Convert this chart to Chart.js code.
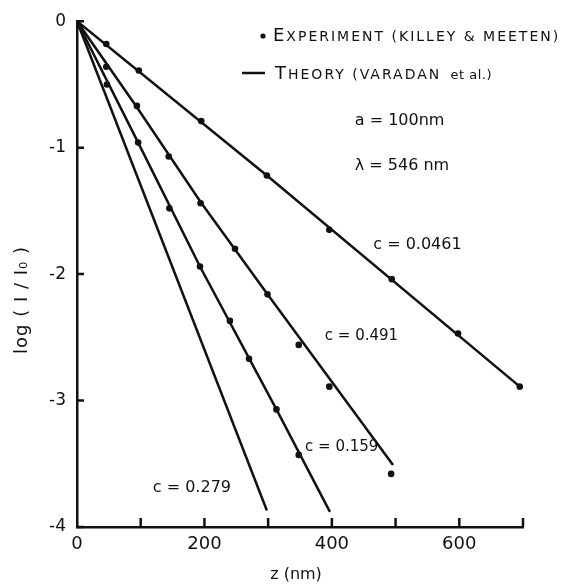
<!DOCTYPE html>
<html>
<head>
<meta charset="utf-8">
<title>log (I/I0) vs z</title>
<script src="https://cdn.jsdelivr.net/npm/chart.js@4.4.1/dist/chart.umd.min.js"></script>
<style>
  html, body { margin: 0; padding: 0; background: #fff; }
  #wrap { width: 563px; height: 587px; }
</style>
</head>
<body>
<div id="wrap"><canvas id="myChart"></canvas></div>
<script>
// Experiment (Killey & Meeten): z in nm and log(I/I0)
const zExp0461 = [46, 97, 195, 298, 396, 494, 598, 695];
const logExp0461 = [-0.18, -0.39, -0.79, -1.22, -1.65, -2.04, -2.47, -2.89];
const zExp0491 = [46, 94, 144, 194, 248, 299, 348, 396, 493];
const logExp0491 = [-0.36, -0.67, -1.07, -1.44, -1.80, -2.16, -2.56, -2.89, -3.58];
const zExp0159 = [47, 96, 145, 193, 240, 270, 313, 348];
const logExp0159 = [-0.50, -0.96, -1.48, -1.94, -2.37, -2.67, -3.07, -3.43];

// Theory (Varadan et al.)
const zTh0461 = [0, 298, 695];
const logTh0461 = [0, -1.22, -2.89];
const zTh0491 = [0, 94, 194, 299, 496];
const logTh0491 = [0, -0.68, -1.43, -2.16, -3.51];
const zTh0159 = [0, 96, 193, 313, 397];
const logTh0159 = [0, -0.96, -1.94, -3.07, -3.88];
const zTh0279 = [0, 298];
const logTh0279 = [0, -3.87];

// Axes
const xTicks = [0, 100, 200, 300, 400, 500, 600, 700];
const xTickLabels = ['0', '', '200', '', '400', '', '600', ''];
const yTicks = [0, -1, -2, -3, -4];
const yTickLabels = ['0', '-1', '-2', '-3', '-4'];
const xTitle = 'z (nm)';
const yTitle = 'log ( I / I\u2080 )';

// Text on the plot
const curveLabels = ['c = 0.0461', 'c = 0.491', 'c = 0.159', 'c = 0.279'];
const paramLabels = ['a = 100nm', '\u03bb = 546 nm'];

const ink = '#111';
const toXY = (zs, logs) => zs.map((z, i) => ({ x: z, y: logs[i] }));

function theoryLine(zs, logs) {
  return {
    data: toXY(zs, logs),
    showLine: true,
    borderColor: ink,
    borderWidth: 2.5,
    pointRadius: 0,
    tension: 0
  };
}

function experimentPoints(zs, logs) {
  return {
    data: toXY(zs, logs),
    showLine: false,
    pointRadius: 3.3,
    pointBackgroundColor: ink,
    pointBorderWidth: 0
  };
}

// draws a run of text pieces with different sizes (small caps look)
function drawParts(c, parts, x, y) {
  parts.forEach(([txt, size, spacing]) => {
    c.font = size + 'px "DejaVu Sans"';
    c.letterSpacing = spacing + 'px';
    c.fillText(txt, x, y);
    x += c.measureText(txt).width;
  });
}

const paperPlugin = {
  id: 'paper',
  afterDraw(chart) {
    const c = chart.ctx;
    const { x, y } = chart.scales;
    c.save();
    c.strokeStyle = ink;
    c.fillStyle = ink;
    c.lineWidth = 2.5;

    // inward tick marks
    c.beginPath();
    xTicks.forEach(v => {
      if (v === 0) return;
      const px = x.getPixelForValue(v);
      c.moveTo(px, y.bottom);
      c.lineTo(px, y.bottom - 9);
    });
    yTicks.forEach(v => {
      const py = y.getPixelForValue(v);
      c.moveTo(x.left, py);
      c.lineTo(x.left + 7, py);
    });
    c.stroke();

    // axis titles
    c.textAlign = 'center';
    c.textBaseline = 'middle';
    c.font = '16px "DejaVu Sans"';
    c.fillText(xTitle, 296, 575);
    c.save();
    c.translate(22, 300);
    c.rotate(-Math.PI / 2);
    c.font = '18px "DejaVu Sans"';
    c.letterSpacing = '1px';
    c.fillText(yTitle, 0, 0);
    c.restore();

    // legend
    c.textAlign = 'left';
    c.textBaseline = 'alphabetic';
    c.beginPath();
    c.arc(263, 36, 2.6, 0, Math.PI * 2);
    c.fill();
    drawParts(c, [['E', 18, 2], ['XPERIMENT (KILLEY & MEETEN)', 14, 2]], 273, 41);
    c.beginPath();
    c.moveTo(242, 73);
    c.lineTo(265, 73);
    c.stroke();
    drawParts(c, [['T', 18, 2], ['HEORY (VARADAN', 14, 2], ['  et al.)', 13, 0.5]], 275, 79);

    // parameters and curve labels, placed in data coordinates
    c.letterSpacing = '0px';
    c.textBaseline = 'middle';
    const spots = [
      [paramLabels[0], 436, -0.79, 16],
      [paramLabels[1], 436, -1.14, 16],
      [curveLabels[0], 465, -1.765, 16],
      [curveLabels[1], 389, -2.49, 15],
      [curveLabels[2], 358, -3.37, 15],
      [curveLabels[3], 119, -3.69, 16]
    ];
    spots.forEach(([txt, zv, lv, size]) => {
      c.font = size + 'px "DejaVu Sans"';
      c.fillText(txt, x.getPixelForValue(zv), y.getPixelForValue(lv));
    });
    c.restore();
  }
};

const ctx = document.getElementById('myChart').getContext('2d');
const chart = new Chart(ctx, {
  type: 'scatter',
  data: {
    datasets: [
      theoryLine(zTh0461, logTh0461),
      theoryLine(zTh0491, logTh0491),
      theoryLine(zTh0159, logTh0159),
      theoryLine(zTh0279, logTh0279),
      experimentPoints(zExp0461, logExp0461),
      experimentPoints(zExp0491, logExp0491),
      experimentPoints(zExp0159, logExp0159)
    ]
  },
  options: {
    responsive: true,
    maintainAspectRatio: false,
    animation: false,
    layout: { padding: { top: 17, right: 40, left: 0, bottom: 0 } },
    plugins: {
      legend: { display: false },
      tooltip: { enabled: false }
    },
    scales: {
      x: {
        type: 'linear',
        min: 0,
        max: 700,
        afterBuildTicks: s => { s.ticks = xTicks.map(v => ({ value: v })); },
        afterFit: s => { s.height = 60; },
        grid: { drawOnChartArea: false, drawTicks: false },
        border: { color: ink, width: 2.5 },
        ticks: {
          padding: 7,
          color: ink,
          maxRotation: 0,
          autoSkip: false,
          font: { family: 'DejaVu Sans', size: 18 },
          callback: (v, i) => xTickLabels[i]
        }
      },
      y: {
        type: 'linear',
        min: -4,
        max: 0,
        afterBuildTicks: s => { s.ticks = yTicks.map(v => ({ value: v })); },
        afterFit: s => { s.width = 77; },
        grid: { drawOnChartArea: false, drawTicks: false },
        border: { color: ink, width: 2.5 },
        ticks: {
          padding: 11,
          color: ink,
          autoSkip: false,
          font: { family: 'DejaVu Sans', size: 17 },
          callback: (v, i) => yTickLabels[i]
        }
      }
    }
  },
  plugins: [paperPlugin]
});
</script>
</body>
</html>
